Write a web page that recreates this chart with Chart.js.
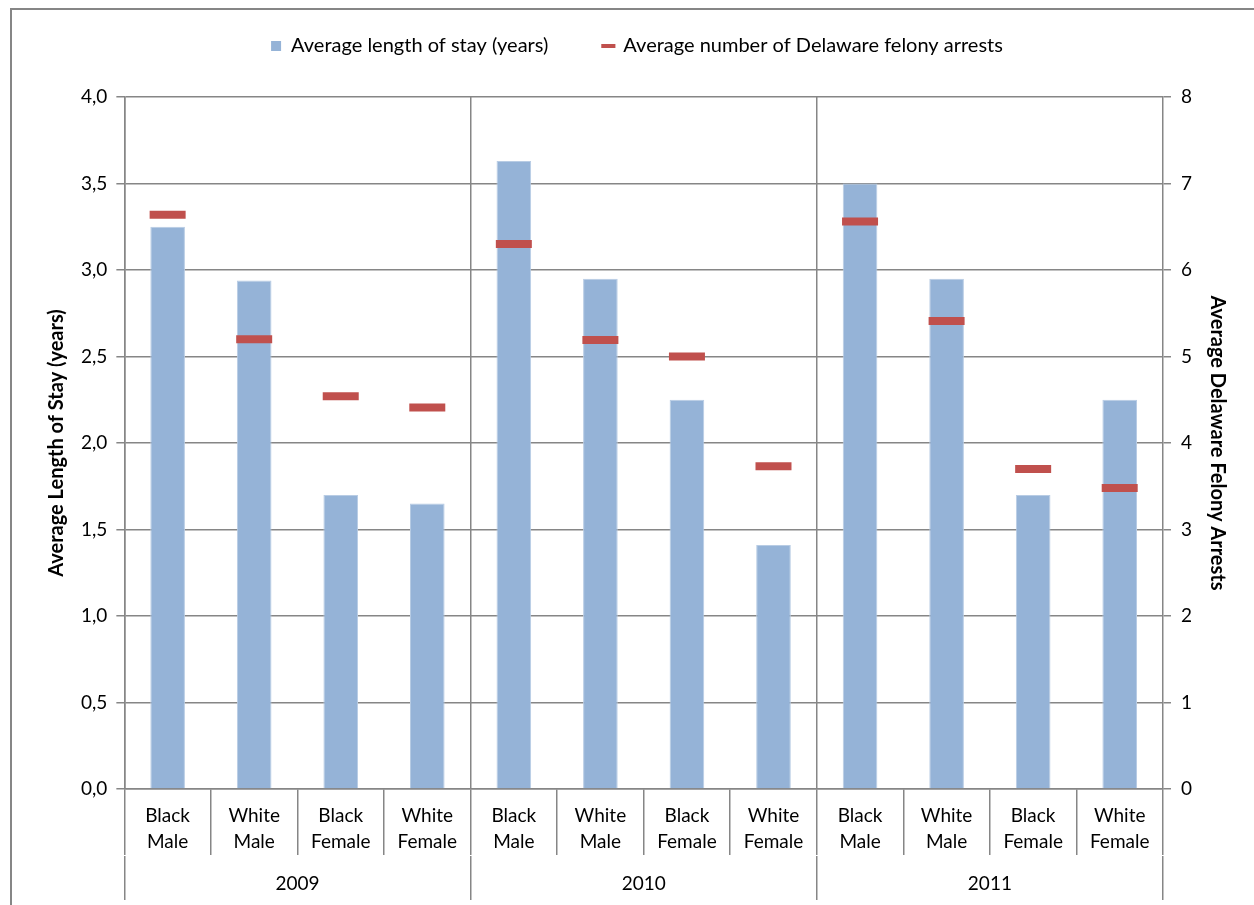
<!DOCTYPE html>
<html>
<head>
<meta charset="utf-8">
<script src="https://cdn.jsdelivr.net/npm/chart.js@4.4.0/dist/chart.umd.min.js"></script>
<style>
  html, body { margin: 0; padding: 0; background: #fff; }
  #wrap { position: relative; width: 1254px; height: 905px; overflow: hidden; }
  #frame { position: absolute; left: 10px; top: 8px; width: 1300px; height: 960px; border: 2px solid #868686; box-sizing: border-box; }
  #c { position: absolute; left: 0; top: 0; }
</style>
</head>
<body>
<div id="wrap">
  <div id="frame"></div>
  <canvas id="c" width="1254" height="905"></canvas>
</div>
<script>
const years = ['2009', '2010', '2011'];
const groups = [['Black', 'Male'], ['White', 'Male'], ['Black', 'Female'], ['White', 'Female']];
const stayYears = [3.25, 2.94, 1.70, 1.65, 3.63, 2.95, 2.25, 1.41, 3.50, 2.95, 1.70, 2.25];
const felonyArrests = [6.64, 5.20, 4.54, 4.41, 6.30, 5.19, 5.00, 3.73, 6.56, 5.41, 3.70, 3.48];
const seriesNames = ['Average length of stay (years)', 'Average number of Delaware felony arrests'];

const BAR = '#95b3d7';
const RED = '#c0504d';
const GRID = '#868686';
const FONT = 'Lato, "Open Sans", sans-serif';

// one label per bar, the year row is drawn by a second category axis
const categories = years.flatMap(() => groups);

// extra room under the legend
const legendSpace = {
    id: 'legendSpace',
    beforeInit(chart) {
        const fit = chart.legend.fit;
        chart.legend.fit = function() {
            fit.bind(chart.legend)();
            this.height += 31;
        };
    }
};

new Chart(document.getElementById('c').getContext('2d'), {
    type: 'bar',
    data: {
        labels: categories,
        datasets: [
            {
                type: 'line',
                label: seriesNames[1],
                data: felonyArrests,
                yAxisID: 'y2',
                showLine: false,
                pointStyle: 'line',
                pointRadius: 18,
                pointHoverRadius: 18,
                pointBorderWidth: 8,
                pointBorderColor: RED,
                pointBackgroundColor: RED,
                borderColor: RED,
                order: 0
            },
            {
                label: seriesNames[0],
                data: stayYears,
                yAxisID: 'y',
                backgroundColor: BAR,
                borderColor: '#b8cce4',
                borderWidth: 1,
                barPercentage: 0.4,
                categoryPercentage: 1,
                order: 1
            }
        ]
    },
    options: {
        responsive: false,
        animation: false,
        events: [],
        layout: { padding: { top: -19, left: 45, right: 25, bottom: 7 } },
        plugins: {
            tooltip: { enabled: false },
            legend: {
                position: 'top',
                labels: {
                    usePointStyle: true,
                    boxWidth: 10,
                    boxHeight: 10,
                    padding: 55,
                    color: '#000',
                    font: { family: FONT, size: 20 },
                    generateLabels: () => [
                        { text: seriesNames[0], fillStyle: BAR, strokeStyle: BAR, lineWidth: 0, pointStyle: 'rect', datasetIndex: 1, hidden: false },
                        { text: seriesNames[1], fillStyle: RED, strokeStyle: RED, lineWidth: 4, pointStyle: 'line', datasetIndex: 0, hidden: false }
                    ]
                }
            }
        },
        scales: {
            x: {
                type: 'category',
                offset: true,
                grid: {
                    offset: true,
                    color: c => (c.index % 4 === 0 ? GRID : 'rgba(0,0,0,0)'),
                    tickColor: GRID,
                    tickLength: 66,
                    lineWidth: 1.5
                },
                border: { color: GRID, width: 1.5 },
                ticks: {
                    padding: -52,
                    maxRotation: 0,
                    autoSkip: false,
                    color: '#000',
                    font: { family: FONT, size: 19, lineHeight: 1.37 }
                },
                afterFit: s => { s.height = 67; }
            },
            x2: {
                type: 'category',
                position: 'bottom',
                labels: years,
                offset: true,
                grid: {
                    offset: true,
                    drawOnChartArea: false,
                    color: GRID,
                    tickLength: 44,
                    lineWidth: 1.5
                },
                border: { display: false },
                ticks: {
                    padding: -29,
                    color: '#000',
                    font: { family: FONT, size: 19, lineHeight: 1.37 }
                },
                afterFit: s => { s.height = 42; }
            },
            y: {
                position: 'left',
                min: 0,
                max: 4,
                ticks: {
                    stepSize: 0.5,
                    padding: 9,
                    color: '#000',
                    font: { family: FONT, size: 19 },
                    callback: v => v.toFixed(1).replace('.', ',')
                },
                grid: { color: GRID, lineWidth: 1.5, tickLength: 8 },
                border: { color: GRID, width: 1.5 },
                title: {
                    display: true,
                    text: 'Average Length of Stay (years)',
                    color: '#000',
                    font: { family: FONT, size: 20, weight: 'bold' },
                    padding: { top: 0, bottom: 3 }
                }
            },
            y2: {
                position: 'right',
                min: 0,
                max: 8,
                ticks: {
                    stepSize: 1,
                    padding: 10,
                    color: '#000',
                    font: { family: FONT, size: 19 }
                },
                grid: { drawOnChartArea: false, color: GRID, lineWidth: 1.5, tickLength: 8 },
                border: { color: GRID, width: 1.5 },
                title: {
                    display: true,
                    text: 'Average Delaware Felony Arrests',
                    color: '#000',
                    font: { family: FONT, size: 20, weight: 'bold' },
                    padding: { top: 0, bottom: 3 }
                }
            }
        }
    },
    plugins: [legendSpace]
});
</script>
</body>
</html>
